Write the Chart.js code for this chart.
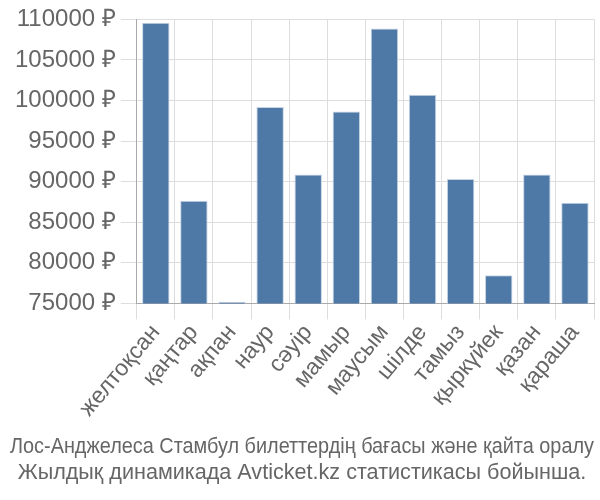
<!DOCTYPE html>
<html><head><meta charset="utf-8">
<script src="https://cdn.jsdelivr.net/npm/chart.js@4"></script>
<style>html,body{margin:0;padding:0;background:#fff}#w{width:600px;height:500px}</style>
</head><body><div id="w"><canvas id="c"></canvas></div>
<script>
const categories = ["желтоқсан","қаңтар","ақпан","наур","сәуір","мамыр","маусым","шілде","тамыз","қыркүйек","қазан","қараша"];
const prices = [109600, 87650, 75200, 99200, 90900, 98650, 108870, 100730, 90340, 78470, 90900, 87410];
const titleLines = ["Лос-Анджелеса Стамбул билеттердің бағасы және қайта оралу","Жылдық динамикада Avticket.kz статистикасы бойынша."];
const yMin = 75000, yMax = 110000, yStep = 5000;
const currency = " ₽";

new Chart(document.getElementById('c'), {
  type: 'bar',
  data: { labels: categories, datasets: [{ data: prices, backgroundColor: '#4e79a7', borderColor: '#c6d4e4', borderWidth: 1, barPercentage: 0.9, categoryPercentage: 0.8 }] },
  options: {
    responsive: true, maintainAspectRatio: false, animation: false,
    layout: { padding: { left: 10, right: 6, top: 2, bottom: 0 } },
    plugins: {
      legend: { display: false },
      tooltip: { enabled: false },
      title: { display: true, position: 'bottom', text: titleLines, color: '#666', font: { family: '"Liberation Sans", Arial, sans-serif', size: 21.6, weight: 'normal' }, padding: { top: 12, bottom: 14 }, lineHeight: 1.17 }
    },
    scales: {
      x: {
        grid: { color: '#dddddd', tickLength: 16, drawOnChartArea: true },
        border: { color: '#aaaaaa' },
        ticks: { color: '#666', font: { family: '"Liberation Sans", Arial, sans-serif', size: 23 }, autoSkip: false, maxRotation: 50, minRotation: 50, padding: 0 }
      },
      y: {
        min: yMin, max: yMax,
        grid: { color: '#dddddd', tickLength: 16 },
        border: { color: '#aaaaaa' },
        ticks: { stepSize: yStep, color: '#666', font: { family: '"Liberation Sans", Arial, sans-serif', size: 24 }, padding: 5, callback: v => v + currency }
      }
    }
  }
});
</script></body></html>
